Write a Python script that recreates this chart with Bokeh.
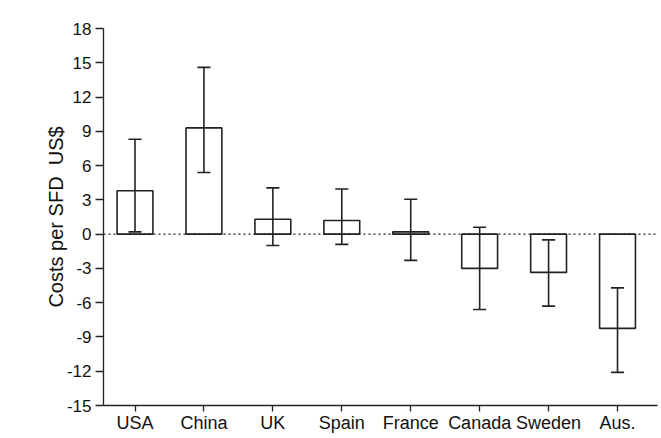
from bokeh.plotting import figure
from bokeh.models import FixedTicker, Span, Range1d
from bokeh.embed import file_html
from bokeh.resources import INLINE

countries = ["USA", "China", "UK", "Spain", "France", "Canada", "Sweden", "Aus."]
costs = [3.8, 9.3, 1.3, 1.2, 0.2, -3.0, -3.35, -8.25]
err_low = [0.2, 5.4, -1.0, -0.9, -2.3, -6.6, -6.3, -12.1]
err_high = [8.3, 14.6, 4.05, 3.95, 3.05, 0.6, -0.5, -4.7]
y_ticks = [18, 15, 12, 9, 6, 3, 0, -3, -6, -9, -12, -15]

xs = list(range(1, len(countries) + 1))
cap = 0.095

p = figure(width=660, height=436, output_backend="svg", toolbar_location=None,
           x_range=Range1d(0.543, 8.58), y_range=Range1d(-15, 18),
           min_border_left=103, min_border_right=3, min_border_top=28, min_border_bottom=31)
p.outline_line_color = None
p.xgrid.visible = False
p.ygrid.visible = False
p.background_fill_color = "white"

zero = Span(location=0, dimension="width", line_color="#222222", line_width=1.3, line_dash="2 3")
p.add_layout(zero)

p.vbar(x=xs, top=costs, bottom=0, width=0.52, fill_color="white",
       line_color="#222222", line_width=1.6)
p.segment(x0=xs, y0=err_low, x1=xs, y1=err_high, line_color="#222222", line_width=1.6)
p.segment(x0=[x - cap for x in xs], y0=err_low, x1=[x + cap for x in xs], y1=err_low,
          line_color="#222222", line_width=1.6)
p.segment(x0=[x - cap for x in xs], y0=err_high, x1=[x + cap for x in xs], y1=err_high,
          line_color="#222222", line_width=1.6)

p.xaxis.ticker = FixedTicker(ticks=xs)
p.xaxis.major_label_overrides = {x: c for x, c in zip(xs, countries)}
p.yaxis.ticker = FixedTicker(ticks=y_ticks)
p.yaxis.major_label_overrides = {t: str(t) for t in y_ticks}

for ax in (p.xaxis[0], p.yaxis[0]):
    ax.axis_line_color = "#222222"
    ax.axis_line_width = 1.3
    ax.major_tick_line_color = "#222222"
    ax.major_tick_line_width = 1.3
    ax.minor_tick_line_color = None
    ax.major_tick_in = 0
    ax.major_label_text_font = "Liberation Sans"
    ax.major_label_text_color = "#111111"

p.xaxis.major_tick_out = 6
p.xaxis.major_label_text_font_size = "18px"
p.xaxis.major_label_standoff = 1
p.yaxis.major_tick_out = 8
p.yaxis.major_label_text_font_size = "17px"
p.yaxis.major_label_standoff = 4

p.yaxis.axis_label = "Costs per SFD\u00a0\u00a0US$"
p.yaxis.axis_label_text_font = "Liberation Sans"
p.yaxis.axis_label_text_font_style = "normal"
p.yaxis.axis_label_text_font_size = "20px"
p.yaxis.axis_label_text_color = "#111111"
p.yaxis.axis_label_standoff = -3

open("out.html", "w").write(file_html(p, INLINE))
